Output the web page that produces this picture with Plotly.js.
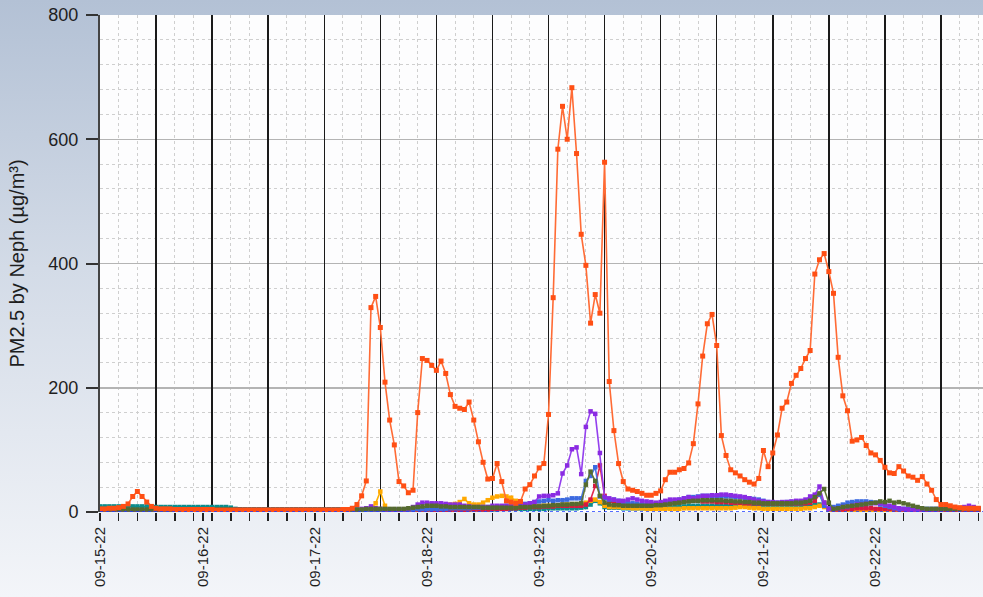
<!DOCTYPE html>
<html>
<head>
<meta charset="utf-8">
<script src="https://cdn.plot.ly/plotly-3.0.1.min.js"></script>
<style>
  html, body { margin:0; padding:0; }
  body { width:983px; height:597px; overflow:hidden;
         background: linear-gradient(to bottom, #b3c1d5 0%, #d3dbe7 45%, #f3f5f9 100%); }
  #chart { width:983px; height:597px; }
</style>
</head>
<body>
<div id="chart"></div>
<script>
// hourly samples, hour 0 = first sample
const tickHours = [0, 22, 46, 70, 94, 118, 142, 166];
const tickLabels = ["09-15-22","09-16-22","09-17-22","09-18-22","09-19-22","09-20-22","09-21-22","09-22-22"];

const seriesOrange = [
 5,5,6,6,7,9,13,25,33,25,16,9,
 6,5,5,5,4,4,4,4,4,4,4,4,
 4,3,3,3,3,3,3,3,3,3,3,3,
 3,3,3,3,3,3,3,3,3,3,3,3,
 3,3,3,3,4,4,6,12,26,50,329,347,
 297,209,148,108,49,42,31,35,160,247,244,236,
 228,243,223,189,170,167,165,177,148,113,80,53,
 54,78,49,18,16,14,17,37,44,58,71,78,
 157,345,584,653,600,683,577,447,397,304,350,320,
 563,210,131,78,49,37,35,33,30,27,27,30,
 34,52,64,64,68,70,79,110,174,251,303,318,
 268,123,91,68,63,58,52,48,45,54,99,73,
 95,124,167,177,207,220,231,247,260,383,406,416,
 387,352,249,187,163,114,116,120,107,95,92,83,
 72,63,62,73,66,58,56,51,57,45,35,20,
 12,12,10,8,7,6,6,6,6];

const seriesPurple = [
 2,2,2,2,2,2,2,2,2,2,2,2,
 2,2,2,3,3,3,3,3,3,3,3,3,
 3,3,3,3,3,4,4,4,4,4,4,4,
 4,4,4,4,4,4,4,4,4,4,4,4,
 4,4,4,4,4,4,4,4,5,6,9,6,
 5,4,4,4,4,4,5,8,12,15,15,14,
 14,14,13,12,12,12,10,9,8,8,8,8,
 10,10,10,10,9,10,12,12,14,16,25,26,
 26,27,30,62,75,101,104,61,137,162,158,95,
 24,22,20,18,18,20,22,20,18,17,16,15,
 16,18,20,20,20,22,24,22,24,26,26,27,
 27,28,28,27,26,25,24,22,20,18,17,16,
 16,15,16,16,17,18,18,20,25,28,41,15,
 5,5,6,8,8,10,12,12,13,14,14,14,
 12,10,8,6,5,4,4,4,4,4,4,4,
 5,5,5,6,6,8,10,8,6];

const seriesGold = [
 2,2,2,2,2,2,2,2,2,2,2,2,
 2,2,2,2,2,2,2,2,2,2,2,2,
 2,2,2,2,2,2,2,2,2,2,2,2,
 2,2,2,2,2,2,2,2,2,2,2,2,
 2,2,2,2,2,2,2,2,3,4,5,14,
 33,10,4,3,3,3,3,3,4,6,8,9,
 10,10,11,12,13,16,21,14,12,12,15,19,
 23,25,26,25,23,18,14,12,10,10,10,10,
 10,10,11,12,12,12,12,13,15,18,20,16,
 10,8,8,8,7,7,6,6,6,5,5,5,
 5,5,5,5,5,6,6,6,6,6,6,6,
 6,6,6,6,7,8,8,7,6,6,5,5,
 5,5,5,5,5,5,5,6,6,8,10,8,
 4,3,3,3,3,3,3,3,3,3,3,3,
 3,3,3,3,3,3,3,3,3,3,3,3,
 3,3,3,3,3,3,3,3,3];

const seriesBlue = [
 3,3,3,3,3,3,3,3,3,3,3,3,
 3,3,3,3,3,3,3,3,3,3,3,3,
 3,3,3,3,3,3,3,3,3,3,3,3,
 3,3,3,3,3,3,3,3,3,3,3,3,
 3,3,3,3,3,3,3,3,3,3,4,4,
 4,4,4,4,4,4,4,4,5,5,5,5,
 5,5,5,6,6,6,6,6,7,7,8,8,
 8,9,9,10,10,11,12,13,14,16,17,18,
 19,18,19,19,20,22,22,22,50,58,72,25,
 22,20,20,18,16,15,14,13,12,12,12,12,
 13,14,16,18,20,22,24,24,25,26,26,25,
 25,26,25,25,24,24,23,22,21,20,18,16,
 15,15,15,16,16,16,17,18,20,26,28,10,
 6,8,10,12,15,16,17,17,17,16,15,12,
 10,8,6,5,5,5,5,5,5,5,5,5,
 5,5,5,5,5,5,5,5,5];

const seriesOlive = [
 4,4,4,4,4,4,4,4,4,4,4,4,
 4,4,4,4,4,4,4,4,4,4,4,4,
 4,4,4,4,4,4,4,4,4,4,4,4,
 4,4,4,4,4,4,4,4,4,4,4,4,
 4,4,4,4,4,4,4,4,4,5,5,5,
 5,5,5,5,5,5,6,7,8,9,10,10,
 10,9,9,8,8,8,8,8,8,8,7,7,
 7,7,7,7,7,7,8,8,8,9,9,10,
 10,11,11,12,12,13,13,14,44,65,50,26,
 15,12,11,11,10,10,10,10,10,10,10,11,
 11,12,13,14,15,16,17,18,18,19,19,19,
 19,19,18,18,17,17,16,16,15,15,14,14,
 14,14,14,14,14,15,15,16,18,24,30,37,
 15,5,6,8,9,10,11,12,13,14,15,17,
 16,18,15,16,14,12,10,8,6,5,5,5,
 5,5,5,5,5,5,5,5,5];

const seriesCrimson = [
 2,2,2,2,2,2,2,2,2,2,2,2,
 2,2,2,2,2,2,2,2,2,2,2,2,
 2,2,2,2,2,2,2,2,2,2,2,2,
 2,2,2,2,2,2,2,2,2,2,2,2,
 2,2,2,2,2,2,2,2,2,2,2,2,
 2,2,2,2,2,2,2,3,4,4,4,3,
 3,3,3,3,3,3,3,4,4,4,4,4,
 5,5,5,5,6,6,7,7,8,8,8,9,
 9,9,10,10,10,10,10,10,12,20,42,75,
 26,18,14,13,12,12,11,11,11,11,11,12,
 12,13,14,15,16,17,18,18,18,17,17,17,
 16,16,16,15,15,15,14,14,14,14,14,14,
 14,14,14,14,14,14,14,14,15,18,28,15,
 5,4,4,4,5,5,6,6,6,6,5,5,
 5,5,4,4,4,4,4,4,3,3,3,3,
 3,3,3,3,3,3,3,3,3];

const seriesTeal = [
 9,9,9,9,9,9,9,9,9,9,9,9,
 8,8,8,8,8,8,8,8,8,8,8,8,
 8,8,8,8,7,5,4,3,3,3,3,3,
 3,3,3,3,3,3,3,3,3,3,3,3,
 3,3,3,3,3,3,3,3,3,3,3,3,
 3,3,3,3,3,3,3,3,3,4,4,4,
 4,4,4,4,4,4,4,4,4,4,4,4,
 4,4,5,5,5,5,5,5,5,5,5,5,
 6,6,6,6,6,6,6,7,8,12,18,14,
 8,7,7,7,6,6,6,6,6,6,6,6,
 7,7,8,8,9,9,10,10,10,10,10,10,
 10,10,10,10,10,10,10,10,10,10,10,10,
 10,10,10,10,10,10,10,10,11,12,12,12,
 4,4,4,4,4,4,4,4,4,4,4,4,
 4,4,4,4,4,4,4,4,4,4,4,4,
 4,4,4,4,4,4,4,4,4];

const hours = seriesOrange.map((_, i) => i);

function mk(name, vals, lineColor, markColor, size, xa) {
  return {
    type: 'scatter', mode: 'lines+markers', name: name,
    x: hours, y: vals, xaxis: xa || 'x', yaxis: 'y',
    line: {color: lineColor, width: 1.6},
    marker: {symbol: 'square', size: size, color: markColor},
    hoverinfo: 'skip'
  };
}

const traces = [
  mk('Teal', seriesTeal, '#0f9a9a', '#0b8c8c', 4.5),
  mk('Gold', seriesGold, '#ffb000', '#ffa800', 4.5),
  mk('Crimson', seriesCrimson, '#e0284d', '#d81840', 4.5),
  mk('Blue', seriesBlue, '#4a78e6', '#3c6ae0', 4.5),
  mk('Purple', seriesPurple, '#9440ee', '#8a2be2', 4.5),
  mk('Olive', seriesOlive, '#5e7534', '#556b2f', 4.5),
  mk('Orange', seriesOrange, '#ff6b35', '#ff4f14', 5, 'x2')
];

const fontFam = 'Liberation Sans, Arial, sans-serif';

const layout = {
  width: 983, height: 597,
  margin: {l: 100, r: 0, t: 15, b: 85, pad: 0},
  paper_bgcolor: 'rgba(0,0,0,0)',
  plot_bgcolor: '#fdfdfe',
  showlegend: false,
  font: {family: fontFam, color: '#1e1e1e'},
  xaxis: {
    range: [0, 189], fixedrange: true,
    tickmode: 'array', tickvals: tickHours, ticktext: tickLabels,
    tickangle: -90, tickfont: {size: 15, color: '#1e1e1e', family: fontFam},
    ticks: 'outside', ticklen: 8, tickwidth: 1.5, tickcolor: '#222',
    showgrid: false, zeroline: false, showline: false
  },
  xaxis2: {
    overlaying: 'x', anchor: 'y', side: 'bottom',
    range: [0, 189], fixedrange: true,
    tickmode: 'linear', tick0: 0, dtick: 12,
    showticklabels: false,
    ticks: 'outside', ticklen: 8, tickwidth: 1.5, tickcolor: '#222',
    showgrid: true, gridcolor: '#1a1a1a', gridwidth: 1.5,
    zeroline: false, showline: false,
    minor: {tickmode: 'linear', tick0: 0, dtick: 4, ticks: 'outside', ticklen: 8,
            tickwidth: 1.5, tickcolor: '#222',
            showgrid: true, gridcolor: '#cfcfcf', griddash: 'dot', gridwidth: 1}
  },
  yaxis: {
    range: [0, 800], fixedrange: true,
    tickmode: 'linear', tick0: 0, dtick: 200,
    tickfont: {size: 18, color: '#1e1e1e', family: fontFam},
    ticks: 'outside', ticklen: 12, tickwidth: 2, tickcolor: '#333',
    ticklabelstandoff: 4,
    showline: true, linecolor: '#444', linewidth: 2,
    showgrid: true, gridcolor: '#b4b4b4', gridwidth: 1.5,
    zeroline: false,
    minor: {tickmode: 'linear', tick0: 0, dtick: 40, showgrid: true,
            gridcolor: '#cfcfcf', griddash: 'dot', gridwidth: 1},
    title: {text: 'PM2.5 by Neph (µg/m³)', standoff: 18,
            font: {size: 20, color: '#1e1e1e', family: fontFam}}
  },
  shapes: [{
    type: 'line', xref: 'paper', yref: 'y', x0: 0, x1: 1, y0: 0, y1: 0,
    line: {color: '#1f3cff', width: 1.5, dash: 'dot'}, layer: 'above'
  }]
};

Plotly.newPlot('chart', traces, layout, {staticPlot: true, displayModeBar: false});
</script>
</body>
</html>
